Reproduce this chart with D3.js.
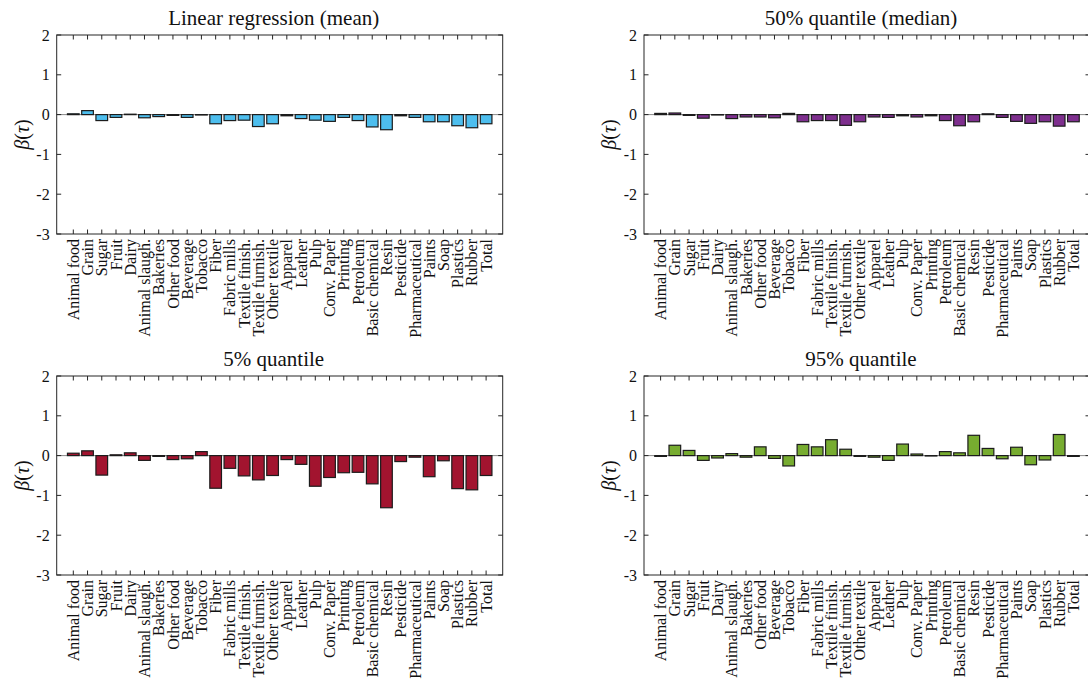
<!DOCTYPE html>
<html>
<head>
<meta charset="utf-8">
<script src="https://cdn.jsdelivr.net/npm/d3@7"></script>
<style>
  body { margin: 0; background: #fff; }
  text { font-family: "Liberation Serif", "DejaVu Serif", serif; fill: #111; }
</style>
</head>
<body>
<script>
// Categories (x axis)
var categories = ["Animal food", "Grain", "Sugar", "Fruit", "Dairy", "Animal slaugh.", "Bakeries",
  "Other food", "Beverage", "Tobacco", "Fiber", "Fabric mills", "Textile finish.", "Textile furnish.",
  "Other textile", "Apparel", "Leather", "Pulp", "Conv. Paper", "Printing", "Petroleum",
  "Basic chemical", "Resin", "Pesticide", "Pharmaceutical", "Paints", "Soap", "Plastics", "Rubber", "Total"];

// Coefficients
var linearMean = [0.02, 0.10, -0.15, -0.07, 0.01, -0.08, -0.05, -0.02, -0.07, -0.01, -0.23, -0.15, -0.14, -0.30, -0.23,
  -0.03, -0.10, -0.14, -0.17, -0.07, -0.15, -0.31, -0.38, -0.03, -0.07, -0.18, -0.18, -0.28, -0.33, -0.23];
var median = [0.03, 0.04, -0.02, -0.09, -0.01, -0.10, -0.06, -0.06, -0.08, 0.03, -0.18, -0.15, -0.15, -0.27, -0.18,
  -0.06, -0.07, -0.03, -0.06, -0.03, -0.15, -0.28, -0.18, 0.02, -0.07, -0.17, -0.22, -0.18, -0.29, -0.18];
var q05 = [0.06, 0.12, -0.49, 0.02, 0.07, -0.12, -0.02, -0.10, -0.08, 0.10, -0.82, -0.32, -0.51, -0.61, -0.50,
  -0.10, -0.22, -0.77, -0.55, -0.43, -0.42, -0.71, -1.31, -0.15, -0.04, -0.53, -0.13, -0.83, -0.86, -0.50];
var q95 = [-0.02, 0.26, 0.13, -0.12, -0.06, 0.05, -0.04, 0.22, -0.07, -0.26, 0.28, 0.22, 0.40, 0.16, -0.02,
  -0.04, -0.12, 0.29, 0.04, -0.01, 0.10, 0.07, 0.51, 0.18, -0.08, 0.21, -0.23, -0.11, 0.53, -0.02];

var yTicks = [2, 1, 0, -1, -2, -3];

var panels = [
  {title: "Linear regression (mean)", values: linearMean, color: "#4DBEEE", left: 56.7, top: 35},
  {title: "50% quantile (median)", values: median, color: "#7E2F8E", left: 644, top: 35},
  {title: "5% quantile", values: q05, color: "#A2142F", left: 56.7, top: 376},
  {title: "95% quantile", values: q95, color: "#77AC30", left: 644, top: 376}
];

var width = 446, height = 199, tick = 4.5;

var svg = d3.select("body").append("svg").attr("width", 1088).attr("height", 682);

var x = d3.scaleLinear().domain([-1.166, categories.length - 1 + 1.166]).range([0, width]);
var y = d3.scaleLinear().domain([-3, 2]).range([height, 0]);

panels.forEach(function(p) {
  var g = svg.append("g").attr("transform", "translate(" + p.left + "," + p.top + ")");
  var bw = x(0.82) - x(0);

  // zero baseline
  g.append("line").attr("x1", 0).attr("x2", width).attr("y1", y(0)).attr("y2", y(0))
    .attr("stroke", "#8a8a8a").attr("stroke-width", 1);

  // bars
  g.selectAll("rect.bar").data(p.values).enter().append("rect")
    .attr("class", "bar")
    .attr("x", function(d, i){ return x(i) - bw / 2; })
    .attr("width", bw)
    .attr("y", function(d){ return y(Math.max(0, d)); })
    .attr("height", function(d){ return Math.abs(y(d) - y(0)); })
    .attr("fill", p.color)
    .attr("stroke", "#1c1c1c")
    .attr("stroke-width", 1.2);

  // frame
  g.append("rect").attr("width", width).attr("height", height)
    .attr("fill", "none").attr("stroke", "#262626").attr("stroke-width", 1);

  // x ticks (top and bottom, inward)
  categories.forEach(function(c, i) {
    g.append("line").attr("x1", x(i)).attr("x2", x(i)).attr("y1", 0).attr("y2", tick)
      .attr("stroke", "#262626");
    g.append("line").attr("x1", x(i)).attr("x2", x(i)).attr("y1", height).attr("y2", height - tick)
      .attr("stroke", "#262626");
  });

  // y ticks (left and right, inward)
  yTicks.forEach(function(t) {
    g.append("line").attr("x1", 0).attr("x2", tick).attr("y1", y(t)).attr("y2", y(t)).attr("stroke", "#262626");
    g.append("line").attr("x1", width).attr("x2", width - tick).attr("y1", y(t)).attr("y2", y(t)).attr("stroke", "#262626");
    g.append("text").attr("x", -7).attr("y", y(t)).attr("dy", "0.35em")
      .attr("text-anchor", "end").style("font-size", "16px").text(t);
  });

  // category labels, rotated
  g.selectAll("text.cat").data(categories).enter().append("text")
    .attr("class", "cat")
    .attr("transform", function(d, i){ return "translate(" + x(i) + "," + (height + 5) + ") rotate(-90)"; })
    .attr("dy", "0.35em")
    .attr("text-anchor", "end")
    .style("font-size", "16px")
    .text(function(d){ return d; });

  // title
  g.append("text").attr("x", width / 2 - 6).attr("y", -10)
    .attr("text-anchor", "middle").style("font-size", "21px").text(p.title);

  // y label
  g.append("text")
    .attr("transform", "translate(-28," + (height / 2) + ") rotate(-90)")
    .attr("text-anchor", "middle")
    .style("font-size", "20px")
    .html('<tspan font-style="italic">β</tspan>(<tspan font-style="italic">τ</tspan>)');
});
</script>
</body>
</html>
